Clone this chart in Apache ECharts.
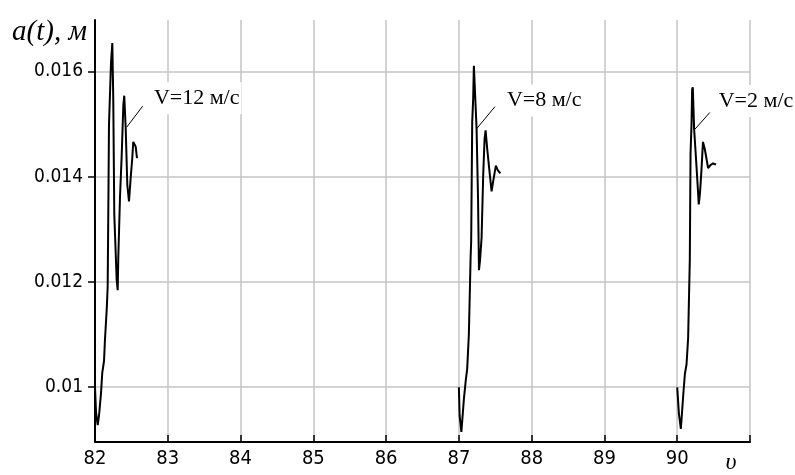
<!DOCTYPE html>
<html>
<head>
<meta charset="utf-8">
<script src="https://cdn.jsdelivr.net/npm/echarts@6/dist/echarts.min.js"></script>
<style>
html,body{margin:0;padding:0;background:#fff;}
#chart{width:795px;height:475px;}
</style>
</head>
<body>
<div id="chart"></div>
<script>
// ---- data ----
const xTickValues = [82, 83, 84, 85, 86, 87, 88, 89, 90];
const yTickValues = [0.01, 0.012, 0.014, 0.016];
const seriesNames = ['V=12 м/с', 'V=8 м/с', 'V=2 м/с'];

const burst1T = [82.000, 82.014, 82.037, 82.055, 82.082, 82.100, 82.124, 82.137, 82.161, 82.174, 82.183, 82.192, 82.220, 82.238, 82.251, 82.265, 82.298, 82.312, 82.320, 82.343, 82.367, 82.389, 82.402, 82.422, 82.444, 82.467, 82.490, 82.512, 82.526, 82.559, 82.577];
const burst1V = [0.00999, 0.00952, 0.00927, 0.00945, 0.00987, 0.01027, 0.01049, 0.01090, 0.01147, 0.01190, 0.01337, 0.01497, 0.01617, 0.01654, 0.01547, 0.01328, 0.01203, 0.01184, 0.01246, 0.01359, 0.01441, 0.01535, 0.01554, 0.01491, 0.01384, 0.01353, 0.01397, 0.01435, 0.01466, 0.01457, 0.01435];

const burst2T = [87.000, 87.010, 87.034, 87.069, 87.096, 87.114, 87.137, 87.161, 87.169, 87.183, 87.196, 87.206, 87.243, 87.263, 87.276, 87.290, 87.312, 87.334, 87.353, 87.367, 87.389, 87.416, 87.449, 87.471, 87.508, 87.536, 87.570];
const burst2V = [0.00999, 0.00945, 0.00914, 0.00977, 0.01014, 0.01034, 0.01100, 0.01246, 0.01278, 0.01504, 0.01547, 0.01611, 0.01491, 0.01359, 0.01222, 0.01240, 0.01284, 0.01403, 0.01472, 0.01488, 0.01453, 0.01416, 0.01372, 0.01391, 0.01421, 0.01412, 0.01406];

const burst3T = [90.000, 90.023, 90.050, 90.082, 90.105, 90.128, 90.150, 90.173, 90.183, 90.196, 90.205, 90.214, 90.232, 90.255, 90.283, 90.296, 90.313, 90.332, 90.354, 90.378, 90.401, 90.424, 90.456, 90.492, 90.532];
const burst3V = [0.00999, 0.00949, 0.00920, 0.00983, 0.01024, 0.01043, 0.01093, 0.01243, 0.01444, 0.01497, 0.01566, 0.01570, 0.01491, 0.01441, 0.01378, 0.01347, 0.01369, 0.01410, 0.01466, 0.01453, 0.01435, 0.01416, 0.01422, 0.01425, 0.01423];

// annotation leader lines (data units): start, end, text anchor
const leaderStart = [[82.435, 0.01494], [87.243, 0.01491], [90.242, 0.01490]];
const leaderEnd   = [[82.655, 0.01534], [87.495, 0.01533], [90.448, 0.01522]];
const textAnchor  = [[82.775, 0.01549], [87.625, 0.01545], [90.535, 0.01544]];

// ---- build ----
const bursts = [[burst1T, burst1V], [burst2T, burst2V], [burst3T, burst3V]];
const narrow = '"Liberation Sans Narrow", "DejaVu Sans Condensed", "Arial Narrow", sans-serif';
const serif = '"Liberation Serif", "DejaVu Serif", serif';

const series = bursts.map(function (b, i) {
  return {
    name: seriesNames[i],
    type: 'line',
    data: b[0].map(function (t, k) { return [t, b[1][k]]; }),
    showSymbol: false,
    symbol: 'none',
    lineStyle: { color: '#000', width: 2 },
    z: 3,
    markLine: {
      silent: true,
      symbol: ['none', 'none'],
      lineStyle: { color: '#000', width: 1, type: 'solid' },
      label: { show: false },
      data: [[{ coord: leaderStart[i] }, { coord: leaderEnd[i] }]]
    },
    markPoint: {
      silent: true,
      symbol: 'rect',
      symbolSize: 1,
      itemStyle: { color: 'rgba(0,0,0,0)' },
      label: {
        show: true,
        position: 'right',
        distance: 0,
        formatter: seriesNames[i],
        color: '#000',
        fontFamily: serif,
        fontSize: 22,
        backgroundColor: '#fff',
        padding: [5, 2, 5, 2]
      },
      data: [{ coord: textAnchor[i] }]
    }
  };
});

const chart = echarts.init(document.getElementById('chart'));
chart.setOption({
  backgroundColor: '#fff',
  animation: false,
  grid: { left: 95, right: 45, top: 20, bottom: 28 },
  xAxis: {
    type: 'value',
    min: 82, max: 91, interval: 1,
    name: 'υ',
    nameLocation: 'end',
    nameGap: -19,
    nameTextStyle: { fontFamily: serif, fontStyle: 'italic', fontSize: 24, color: '#000', align: 'center', verticalAlign: 'top', padding: [9, 0, 0, 0] },
    axisLine: { show: true, onZero: false, lineStyle: { color: '#000', width: 2 } },
    axisTick: { show: true, inside: true, length: 7, lineStyle: { color: '#000', width: 1.5 } },
    axisLabel: {
      customValues: xTickValues,
      margin: 7,
      color: '#000',
      fontFamily: narrow,
      fontSize: 20
    },
    splitLine: { show: true, lineStyle: { color: '#c4c4c4', width: 1.5 } }
  },
  yAxis: {
    type: 'value',
    min: 0.00895, max: 0.01698,
    name: 'a(t), м',
    nameLocation: 'end',
    nameGap: -12,
    nameTextStyle: { fontFamily: serif, fontStyle: 'italic', fontSize: 29, color: '#000', align: 'right', verticalAlign: 'middle', padding: [0, 8, 0, 0] },
    axisLine: { show: true, onZero: false, lineStyle: { color: '#000', width: 2 } },
    axisTick: { show: true, customValues: yTickValues, length: 7, lineStyle: { color: '#000', width: 1.5 } },
    axisLabel: {
      customValues: yTickValues,
      margin: 12,
      color: '#000',
      fontFamily: narrow,
      fontSize: 19,
      formatter: function (v) { return String(Math.round(v * 1000) / 1000); }
    },
    splitLine: { show: true, lineStyle: { color: '#c4c4c4', width: 1.5 } }
  },
  series: series
});
</script>
</body>
</html>
